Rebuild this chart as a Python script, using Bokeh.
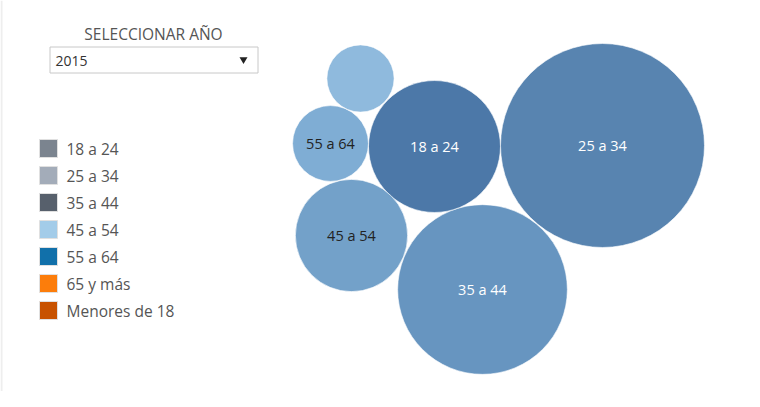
from bokeh.plotting import figure
from bokeh.models import Range1d, ColumnDataSource
from bokeh.core.properties import value
from bokeh.embed import file_html
from bokeh.resources import INLINE
import numpy as np

# ---- data ----
bubble_cats = ["25 a 34", "35 a 44", "18 a 24", "45 a 54", "55 a 64", "65 y más"]
bubble_vals = [10400, 7200, 4350, 3150, 1440, 1130]
bubble_show_label = [True, True, True, True, True, False]

legend_cats = ["18 a 24", "25 a 34", "35 a 44", "45 a 54", "55 a 64", "65 y más", "Menores de 18"]
legend_colors = ["#7b848f", "#a3acb9", "#57606c", "#a3cce9", "#1170aa", "#fc7d0b", "#c85200"]

year_selected = "2015"
selector_title = "SELECCIONAR AÑO"

# ---- layout / style (pixel-like coordinates) ----
bubble_cx = [602, 482, 434, 351, 330, 360]
bubble_cy = [145, 289, 146, 235, 143, 78]
bubble_fill = ["#5884b0", "#6795c0", "#4c78a8", "#73a1c9", "#7fadd4", "#8fbadd"]
bubble_text_color = ["#ffffff", "#ffffff", "#ffffff", "#222222", "#222222", "#222222"]

W, H = 744, 391
p = figure(width=W, height=H, output_backend="svg", toolbar_location=None,
           x_range=Range1d(0, W), y_range=Range1d(H, 0),
           min_border=0, outline_line_color=None)
p.xaxis.visible = False
p.yaxis.visible = False
p.grid.visible = False
p.background_fill_color = "white"
p.border_fill_color = "white"

# faint left edge
p.segment(x0=[1], y0=[0], x1=[1], y1=[H], line_color="#eeeeee", line_width=2)

# bubbles
radii = [float(np.sqrt(v)) for v in bubble_vals]
src = ColumnDataSource(dict(x=bubble_cx, y=bubble_cy, r=radii, fill=bubble_fill,
                            label=[c if s else "" for c, s in zip(bubble_cats, bubble_show_label)],
                            tc=bubble_text_color))
p.circle(x="x", y="y", radius="r", fill_color="fill", line_color="white",
         line_width=1, line_alpha=0.6, source=src)
p.text(x="x", y="y", text="label", text_color="tc", text_align="center",
       text_baseline="middle", text_font=value("Open Sans"), text_font_size="14.5px",
       source=src)

# selector
p.text(x=[153], y=[33], text=[selector_title], text_align="center", text_baseline="middle",
       text_font=value("Open Sans"), text_font_size="15.5px", text_color="#555555")
p.quad(left=[49.5], right=[257.5], top=[46.5], bottom=[72.5], fill_color="white",
       line_color="#c8c8c8", line_width=1)
p.text(x=[55], y=[60], text=[year_selected], text_align="left", text_baseline="middle",
       text_font=value("Open Sans"), text_font_size="14px", text_color="#333333")
p.scatter(x=[243], y=[59], marker="inverted_triangle", size=8, fill_color="#222222",
          line_color=None)

# legend
ly = [148 + 27 * i for i in range(len(legend_cats))]
lsrc = ColumnDataSource(dict(y=ly, c=legend_colors, t=legend_cats))
p.rect(x=48, y="y", width=18, height=18, fill_color="c", line_color="#e0e0e0",
       line_width=1, source=lsrc)
p.text(x=66, y="y", text="t", text_align="left", text_baseline="middle",
       text_font=value("Open Sans"), text_font_size="15.5px", text_color="#555555",
       source=lsrc)

open("out.html", "w").write(file_html(p, INLINE))
